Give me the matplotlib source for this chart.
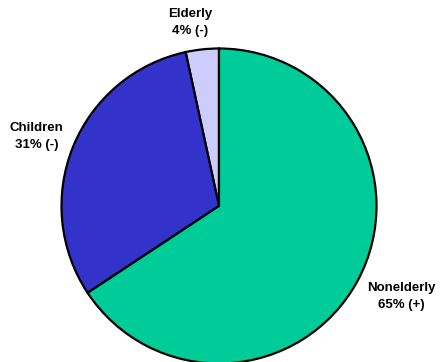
import matplotlib
matplotlib.use("Agg")
import matplotlib.pyplot as plt

categories = ["Elderly", "Children", "Nonelderly"]
shares = [3.4, 30.9, 65.7]
label_text = ["Elderly\n4% (-)", "Children\n31% (-)", "Nonelderly\n65% (+)"]
colors = ["#CCCCFF", "#3333CC", "#00CC99"]

W, H = 440, 362
fig = plt.figure(figsize=(W / 100, H / 100), dpi=100)
cx, cy, r = 219, 206, 157.5
ax = fig.add_axes([(cx - r) / W, (H - cy - r) / H, 2 * r / W, 2 * r / H])
ax.pie(shares, colors=colors, startangle=90, counterclock=True,
       wedgeprops=dict(edgecolor="black", linewidth=1.6),
       radius=1.0)
ax.set_xlim(-1, 1)
ax.set_ylim(-1, 1)
ax.set_aspect("equal")
ax.axis("off")

label_pos = [(-0.185, 1.165), (-1.16, 0.44), (1.16, -0.575)]
for t, (x, y) in zip(label_text, label_pos):
    ax.text(x, y, t, ha="center", va="center", fontsize=9.5, fontweight="bold",
            family="Liberation Sans", linespacing=1.6, clip_on=False)

fig.savefig("out.png", dpi=100)
